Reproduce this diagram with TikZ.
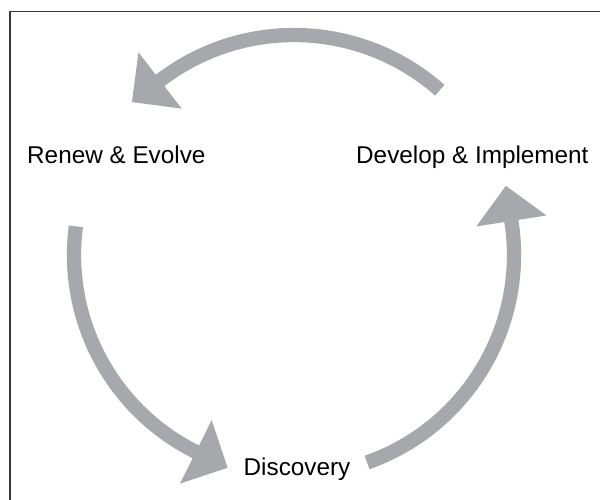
\documentclass[tikz,border=0pt]{standalone}
\usepackage{fontspec}
\setmainfont{Liberation Sans}
\usetikzlibrary{calc}
\definecolor{cyclegray}{RGB}{167,168,172}
\definecolor{framegray}{RGB}{55,55,55}
\begin{document}
\begin{tikzpicture}[x=1pt,y=1pt,
  stagelabel/.style={anchor=base west, inner sep=0pt, text=black,
    font=\fontsize{24.3}{29}\selectfont},
  shaft/.style={draw=cyclegray, line width=14.3pt},
  head/.style={fill=cyclegray}]
\useasboundingbox (0,0) rectangle (600,500);

% open frame: left and top edges
\draw[framegray, line width=1.5pt] (10,0) -- (10,488.5) -- (600,488.5);

% centre and radius of the cycle
\coordinate (c) at (294,245);
\def\R{220}
\def\hw{35.5}

% stage labels
\node[stagelabel] (renew)     at (27,336.7)  {Renew \& Evolve};
\node[stagelabel] (develop)   at (356,336.7) {Develop \& Implement};
\node[stagelabel] (discovery) at (243.5,24)  {Discovery};

% Develop -> Renew (top arc)
\coordinate (topS) at ($(c)+(48.5:\R)$);
\coordinate (topE) at ($(c)+(127.5:\R)$);
\draw[shaft] (topS) arc[start angle=48.5, end angle=128.2, radius=\R];
\fill[head] ($(c)+(127.5:\R-\hw)$) -- ($(c)+(127.5:\R+\hw)$)
  -- ($(topE)+(217.5:\hw)$) -- cycle;

% Renew -> Discovery (left arc)
\coordinate (leftS) at ($(c)+(172.5:\R)$);
\coordinate (leftE) at ($(c)+(243.5:\R)$);
\draw[shaft] (leftS) arc[start angle=172.5, end angle=244.2, radius=\R];
\fill[head] ($(c)+(243.5:\R-\hw)$) -- ($(c)+(243.5:\R+\hw)$)
  -- ($(leftE)+(333.5:\hw)$) -- cycle;

% Discovery -> Develop (right arc)
\coordinate (rightS) at ($(c)+(-70.6:\R)$);
\coordinate (rightE) at ($(c)+(8.9:\R)$);
\draw[shaft] (rightS) arc[start angle=-70.6, end angle=9.6, radius=\R];
\fill[head] ($(c)+(8.9:\R-\hw)$) -- ($(c)+(8.9:\R+\hw)$)
  -- ($(rightE)+(98.9:\hw)$) -- cycle;
\end{tikzpicture}
\end{document}
